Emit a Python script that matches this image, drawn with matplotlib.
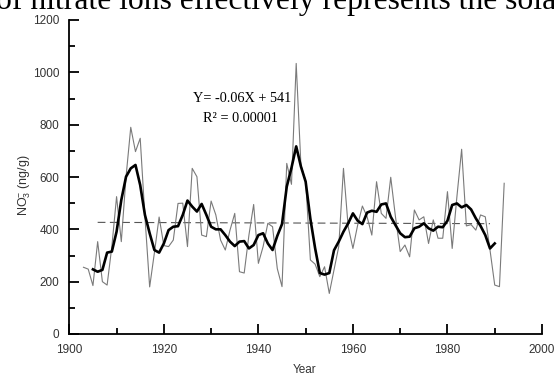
import matplotlib
matplotlib.use("Agg")
import matplotlib.pyplot as plt
from matplotlib.ticker import MultipleLocator
import numpy as np

plt.rcParams['mathtext.fontset'] = 'custom'
plt.rcParams['mathtext.rm'] = 'Liberation Sans'
plt.rcParams['mathtext.it'] = 'Liberation Sans:italic'

# Annual nitrate concentration (thin grey line)
raw_years = list(range(1903, 1993))
raw_values = [255, 248, 185, 353, 200, 187, 334, 525, 353, 600,
              790, 697, 748, 448, 180, 310, 447, 338, 334, 359,
              499, 500, 334, 633, 601, 378, 372, 508, 455, 359,
              321, 397, 461, 238, 233, 378, 495, 270, 334, 423,
              410, 250, 181, 652, 572, 1034, 645, 585, 283, 267,
              219, 257, 155, 245, 334, 633, 410, 327, 416, 489,
              448, 378, 582, 461, 442, 599, 448, 315, 340, 295,
              474, 436, 448, 346, 436, 366, 366, 544, 327, 525,
              706, 413, 418, 397, 455, 448, 321, 187, 181, 576]

# Smoothed series (thick black line)
smooth_years = list(range(1905, 1991))
smooth_values = [247, 238, 245, 311, 315, 391, 512, 601, 633, 646,
                 569, 455, 385, 321, 311, 346, 397, 410, 412, 455,
                 510, 487, 468, 497, 455, 410, 400, 400, 378, 353,
                 336, 353, 355, 327, 340, 378, 385, 346, 321, 375,
                 420, 563, 635, 717, 640, 582, 440, 328, 233, 227,
                 233, 320, 353, 391, 423, 461, 433, 420, 464, 471,
                 467, 495, 499, 448, 416, 385, 370, 372, 404, 410,
                 423, 404, 395, 410, 408, 433, 493, 499, 484, 493,
                 476, 442, 413, 378, 327, 346]

# Linear trend Y = -0.06X + 541 (X = year)
trend_slope = -0.06
trend_intercept = 541
trend_years = [1906, 1989]

xticks = [1900, 1920, 1940, 1960, 1980, 2000]
yticks = [0, 200, 400, 600, 800, 1000, 1200]

W, H = 554, 376
fig = plt.figure(figsize=(W/100, H/100), dpi=100)
ax = fig.add_axes([69.3/W, 42/H, (542-69.3)/W, (334-20)/H])

ax.plot(raw_years, raw_values, color='#7a7a7a', lw=0.8, zorder=2)
ax.plot(smooth_years, smooth_values, color='black', lw=1.9, zorder=3)
ty = [trend_slope * y + trend_intercept for y in trend_years]
ax.plot(trend_years, ty, color='#555555', lw=0.8, ls=(0, (7, 4)), zorder=1)

ax.set_xlim(1900, 2000)
ax.set_ylim(0, 1200)
ax.set_xticks(xticks)
ax.set_yticks(yticks)
ax.xaxis.set_minor_locator(MultipleLocator(10))
ax.yaxis.set_minor_locator(MultipleLocator(100))
for s in ['top', 'right']:
    ax.spines[s].set_visible(False)
for s in ['left', 'bottom']:
    ax.spines[s].set_linewidth(1.3)
ax.tick_params(which='major', direction='in', length=7.5, width=1.3,
               labelsize=8.5, pad=7)
ax.tick_params(which='minor', direction='in', length=4, width=1.3)
for lab in ax.get_xticklabels() + ax.get_yticklabels():
    lab.set_fontfamily('Liberation Sans')
    lab.set_color('#333333')

fig.text(305/W, 1 - 370/H, 'Year', fontfamily='Liberation Sans', fontsize=8.5,
         color='#333333', ha='center', va='center')
fig.text(25/W, 1 - 185/H, 'NO$_3^{-}$ (ng/g)', fontfamily='Liberation Sans', fontsize=9,
         color='#333333', ha='center', va='center', rotation=90)

fig.text(193/W, 1 - 99/H, 'Y= -0.06X + 541', fontfamily='Liberation Serif', fontsize=10.3,
         va='center', ha='left')
fig.text(203/W, 1 - 119/H, 'R² = 0.00001', fontfamily='Liberation Serif', fontsize=10.3,
         va='center', ha='left')

fig.text(-4/W, 1 - 9/H, 'of nitrate ions effectively represents the sola',
         fontfamily='Liberation Serif', fontsize=22.8, va='baseline', ha='left')

fig.savefig('out.png', dpi=100)
